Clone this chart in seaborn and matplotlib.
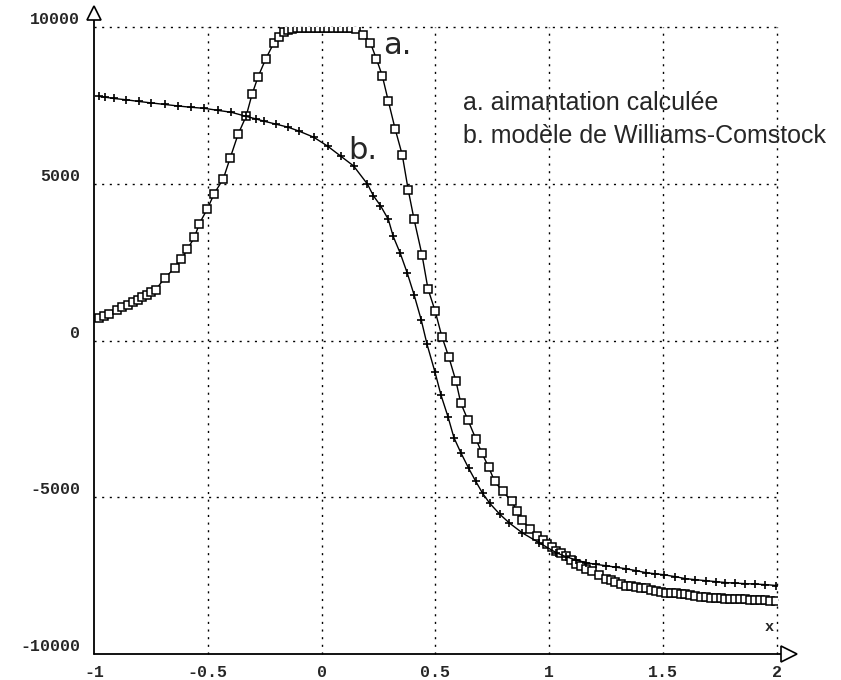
import numpy as np
import pandas as pd
import seaborn as sns
import matplotlib.pyplot as plt

# curve a : aimantation calculee (squares)
xa = [-0.98, -0.955, -0.934, -0.90, -0.876, -0.852, -0.830, -0.808, -0.789, -0.769,
      -0.749, -0.729, -0.690, -0.646, -0.616, -0.590, -0.559, -0.537, -0.502, -0.472,
      -0.432, -0.402, -0.367, -0.332, -0.306, -0.279, -0.245, -0.210, -0.188, -0.166,
      -0.148, -0.13, -0.11, -0.09, -0.07, -0.05, -0.03, -0.01, 0.01, 0.03,
      0.05, 0.07, 0.09, 0.11, 0.13, 0.15, 0.18, 0.214, 0.240, 0.266,
      0.293, 0.323, 0.354, 0.380, 0.406, 0.441, 0.467, 0.498, 0.528, 0.559,
      0.590, 0.611, 0.642, 0.677, 0.703, 0.734, 0.760, 0.795, 0.834, 0.858,
      0.882, 0.913, 0.948, 0.970, 0.99, 1.010, 1.031, 1.053, 1.074, 1.096,
      1.118, 1.140, 1.160, 1.188, 1.220, 1.249, 1.270, 1.290, 1.313, 1.336,
      1.358, 1.380, 1.402, 1.424, 1.446, 1.468, 1.490, 1.511, 1.533, 1.555,
      1.577, 1.598, 1.620, 1.642, 1.664, 1.686, 1.708, 1.730, 1.752, 1.773,
      1.795, 1.817, 1.838, 1.860, 1.882, 1.904, 1.926, 1.948, 1.970, 1.996]
ya = [730, 790, 854, 980, 1060, 1140, 1220, 1300, 1375, 1455,
      1535, 1615, 1990, 2310, 2595, 2910, 3290, 3730, 4200, 4685,
      5160, 5820, 6580, 7150, 7850, 8420, 8990, 9495, 9670, 9840,
      9900, 9950, 9960, 9960, 9960, 9960, 9960, 9960, 9960, 9960,
      9960, 9960, 9960, 9960, 9960, 9940, 9750, 9495, 8990, 8450,
      7630, 6740, 5920, 4810, 3860, 2720, 1645, 950, 125, -540,
      -1300, -1995, -2530, -3135, -3575, -4050, -4495, -4810, -5125, -5430,
      -5730, -6015, -6235, -6360, -6480, -6600, -6710, -6790, -6870, -7000,
      -7120, -7200, -7280, -7340, -7480, -7595, -7650, -7700, -7760, -7815,
      -7840, -7860, -7885, -7910, -7945, -7980, -8010, -8040, -8055, -8070,
      -8085, -8100, -8125, -8150, -8170, -8195, -8205, -8215, -8222, -8230,
      -8238, -8245, -8252, -8260, -8270, -8280, -8285, -8290, -8295, -8300]

# curve b : modele de Williams-Comstock (plus markers)
xb = [-0.978, -0.95, -0.913, -0.86, -0.803, -0.75, -0.690, -0.63, -0.575, -0.515,
      -0.455, -0.397, -0.332, -0.29, -0.253, -0.20, -0.148, -0.100, -0.035, 0.026,
      0.083, 0.140, 0.201, 0.227, 0.258, 0.293, 0.314, 0.345, 0.376, 0.406,
      0.437, 0.463, 0.498, 0.524, 0.555, 0.581, 0.611, 0.646, 0.677, 0.707,
      0.738, 0.782, 0.825, 0.882, 0.956, 1.031, 1.074, 1.118, 1.162, 1.205,
      1.249, 1.292, 1.336, 1.380, 1.424, 1.463, 1.502, 1.550, 1.598, 1.642,
      1.686, 1.730, 1.773, 1.817, 1.860, 1.904, 1.948, 1.996]
yb = [7785, 7760, 7720, 7680, 7625, 7580, 7530, 7480, 7440, 7405,
      7340, 7280, 7150, 7070, 6995, 6900, 6805, 6680, 6485, 6200,
      5885, 5570, 4990, 4620, 4305, 3860, 3325, 2785, 2150, 1455,
      665, -125, -1015, -1740, -2435, -3100, -3575, -4080, -4495, -4875,
      -5190, -5540, -5825, -6140, -6455, -6770, -6900, -7000, -7090, -7140,
      -7185, -7230, -7280, -7340, -7405, -7440, -7470, -7530, -7595, -7630,
      -7660, -7690, -7720, -7740, -7755, -7770, -7785, -7815]

xticks = [-1, -0.5, 0, 0.5, 1, 1.5, 2]
xlabels = ['-1', '-0.5', '0', '0.5', '1', '1.5', '2']
yticks = [-10000, -5000, 0, 5000, 10000]
ylabels = ['-10000', '-5000', '0', '5000', '10000']

sns.set_style('white')
plt.rcParams['font.family'] = ['DejaVu Sans']

fig = plt.figure(figsize=(8.41, 6.8), dpi=100)
ax = fig.add_axes([94 / 841, 1 - 654 / 680, (777 - 94) / 841, (654 - 27) / 680])

da = pd.DataFrame({'x': xa, 'y': ya})
db = pd.DataFrame({'x': xb, 'y': yb})

sns.lineplot(data=da, x='x', y='y', ax=ax, color='black', lw=1.0, sort=False,
             estimator=None, marker='s', markersize=6, markerfacecolor='white',
             markeredgecolor='black', markeredgewidth=1.1)
sns.lineplot(data=db, x='x', y='y', ax=ax, color='black', lw=1.0, sort=False,
             estimator=None, marker='+', markersize=6, markerfacecolor='black',
             markeredgecolor='black', markeredgewidth=1.2)

ax.set_xlim(-1, 2)
ax.set_ylim(-10000, 10000)
ax.set_xlabel('')
ax.set_ylabel('')

# dotted grid
for v in xticks[1:]:
    ax.axvline(v, color='black', lw=1.0, ls=(0, (1.5, 4)), zorder=0, clip_on=False)
for v in yticks[1:]:
    ax.axhline(v, color='black', lw=1.0, ls=(0, (1.5, 4)), zorder=0, clip_on=False)

for s in ['top', 'right', 'left', 'bottom']:
    ax.spines[s].set_visible(False)

# axes lines with hollow arrow heads
ax.plot([0, 1.008], [0, 0], transform=ax.transAxes, color='black', lw=1.3, clip_on=False)
ax.plot([0, 0], [0, 1.015], transform=ax.transAxes, color='black', lw=1.3, clip_on=False)
ax.plot([1.018], [0], transform=ax.transAxes, marker='>', markersize=11,
        markerfacecolor='white', markeredgecolor='black', markeredgewidth=1.2, clip_on=False)
ax.plot([0], [1.022], transform=ax.transAxes, marker='^', markersize=10,
        markerfacecolor='white', markeredgecolor='black', markeredgewidth=1.2, clip_on=False)

ax.set_xticks(xticks)
ax.set_xticklabels(xlabels, family='Liberation Mono', fontsize=12, fontweight='bold')
ax.set_yticks(yticks)
ax.set_yticklabels(ylabels, family='Liberation Mono', fontsize=12, fontweight='bold', va='bottom')
ax.set_xticks(np.arange(-1, 2.01, 0.1), minor=True)
ax.set_yticks(np.arange(-10000, 10001, 1000), minor=True)
ax.tick_params(axis='both', which='major', direction='out', length=6, width=1.0, color='black')
ax.tick_params(axis='both', which='minor', direction='out', length=4, width=1.0, color='black')
ax.tick_params(axis='x', which='major', pad=2)
ax.tick_params(axis='y', which='major', pad=4)

ax.text(1.985, -9150, 'x', family='Liberation Mono', fontsize=11, fontweight='bold',
        ha='right', va='center')

# hand-written curve labels
ax.text(0.27, 9400, 'a.', fontsize=22, ha='left', va='center')
ax.text(0.115, 6050, 'b.', fontsize=22, ha='left', va='center')

# legend text
ax.text(0.62, 7580, 'a. aimantation calculée', family='Liberation Sans', fontsize=18,
        ha='left', va='center')
ax.text(0.62, 6530, 'b. modèle de Williams-Comstock', family='Liberation Sans', fontsize=18,
        ha='left', va='center', clip_on=False)

fig.savefig('out.png', dpi=100, facecolor='white')
